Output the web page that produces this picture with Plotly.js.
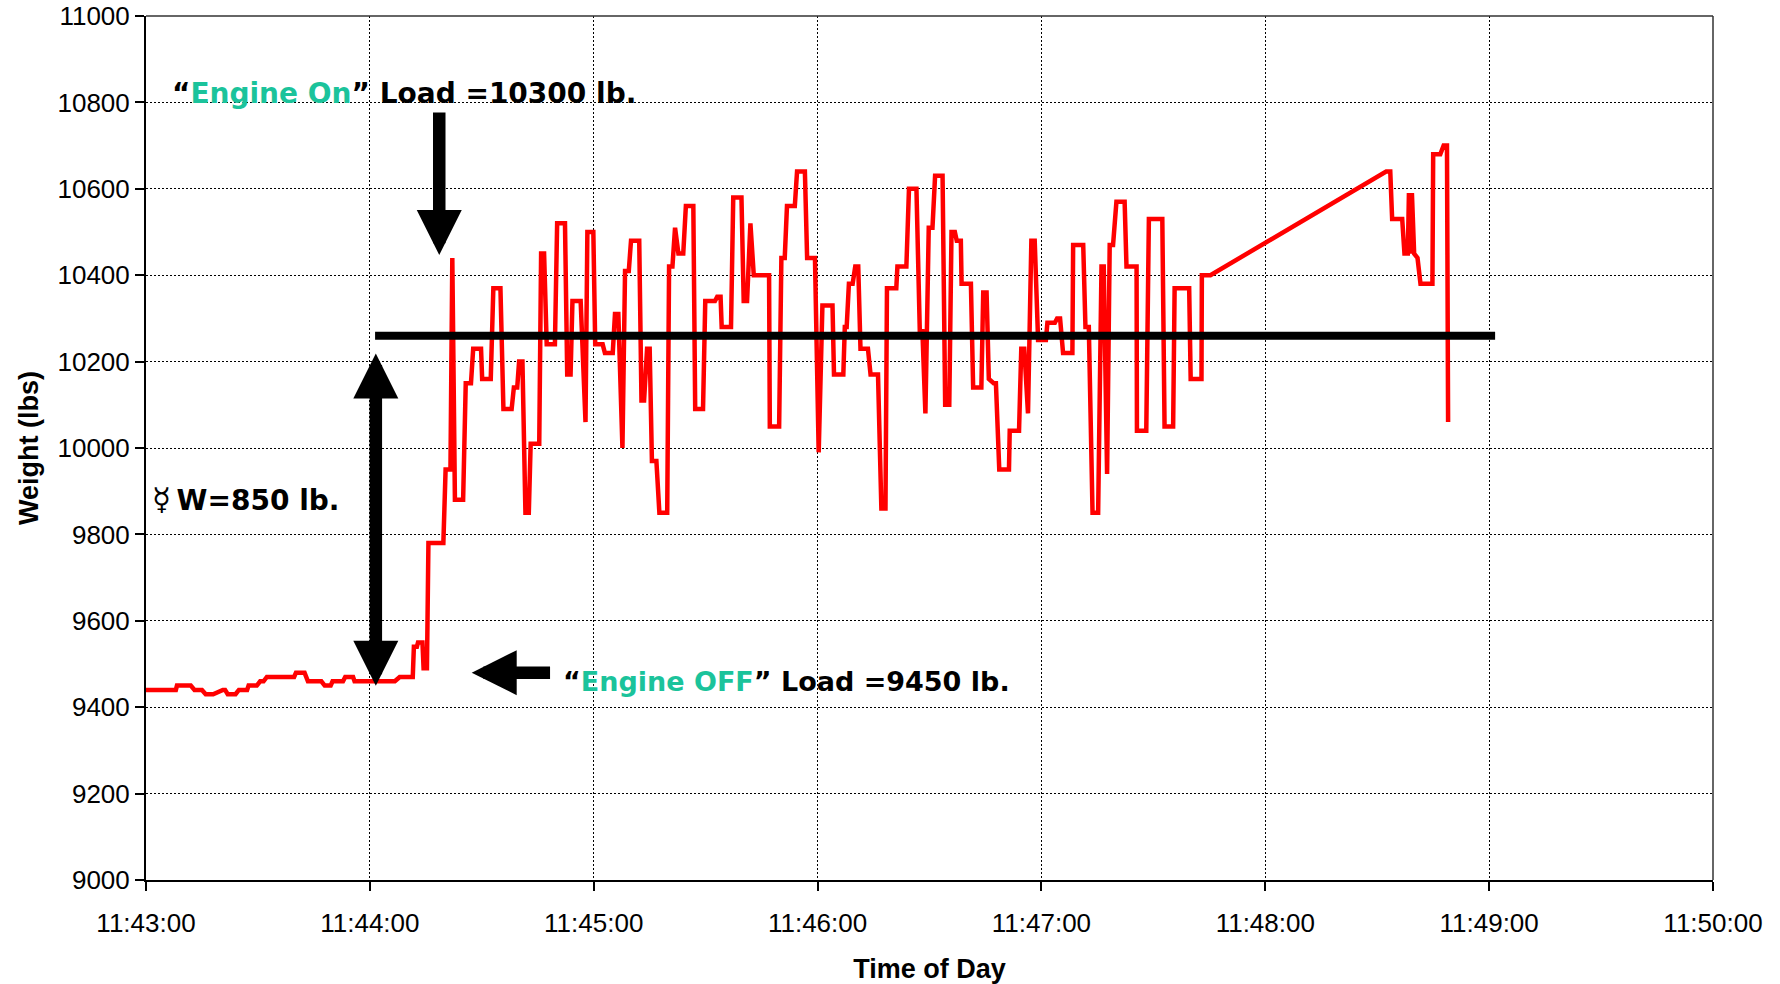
<!DOCTYPE html>
<html><head><meta charset="utf-8">
<script src="https://cdn.plot.ly/plotly-3.0.1.min.js"></script>
<style>html,body{margin:0;padding:0;background:#fff}</style>
</head><body><div id="chart" style="width:1780px;height:984px"></div>
<script>
// Seconds after 11:43:00 and measured weight (lbs)
const seconds = [0,8,8.3,12,13,15,16,18,20.6,21.2,21.9,24,24.9,27.1,27.5,29.7,30.6,31.5,32.4,39.7,40.2,42.5,43.4,47,47.9,49.5,50,52.8,53.4,55.5,55.9,66.7,68,71.5,71.8,72.6,72.9,74.1,74.4,75.3,75.7,79.7,80.3,81.6,82.1,82.8,85,85.7,87.1,87.7,89.8,90.1,92.4,93.1,95,95.8,98,98.6,99.5,100,100.9,101.7,102.6,103.1,105.4,105.9,106.7,107.4,109.6,110.2,112.3,112.9,113.8,114.3,116.5,117.8,118.3,119.9,120.4,122.4,123,125.1,125.7,126.6,127.7,128.4,129.4,130,132.2,132.8,133.5,134.3,135,135.6,136.8,137.6,139.7,140.2,141.1,141.8,142.7,144,144.7,146.7,147.2,149.3,149.9,152.5,153.1,154,154.3,156.8,157.4,159.6,160.2,161.1,162,162.9,167,167.2,169.7,170.3,171.2,171.8,173.9,174.5,176.6,177.2,179.3,180.3,181.3,184,184.4,186.9,187.3,187.8,188.4,189.4,190.1,190.9,191.5,193.5,194.2,196.2,197.1,198.2,198.6,201.1,201.4,203.8,204.5,206.5,207.4,208.1,208.9,209.8,210.8,211.5,213.5,214.2,215.3,215.9,216.8,217.3,218.4,218.6,221.1,221.7,223.9,224.4,225.3,225.9,227.2,227.8,228.7,231.3,231.5,234,234.6,235.4,236.4,237.3,238.2,239.1,241.2,241.6,243.6,244.2,245,245.8,248.3,248.5,251.2,251.8,252.7,253.7,255.2,256.1,256.7,257.6,258.3,259.2,260.1,262.3,262.8,265.5,265.6,268.1,268.8,272.4,273,275.3,275.7,279.6,280,282.9,283,285.3,332.4,333.5,334,336.7,337.3,338.2,338.5,338.9,339.3,339.9,340.8,341.6,344.8,345,346.9,347.8,348.7,349];
const weight = [9440,9440,9450,9450,9440,9440,9430,9430,9440,9440,9430,9430,9440,9440,9450,9450,9460,9460,9470,9470,9480,9480,9460,9460,9450,9450,9460,9460,9470,9470,9460,9460,9470,9470,9540,9540,9550,9550,9490,9490,9780,9780,9950,9950,10440,9880,9880,10150,10150,10230,10230,10160,10160,10370,10370,10090,10090,10140,10140,10200,10200,9850,9850,10010,10010,10450,10450,10240,10240,10520,10520,10170,10170,10340,10340,10060,10500,10500,10240,10240,10220,10220,10310,10310,10000,10410,10410,10480,10480,10110,10110,10230,10230,9970,9970,9850,9850,10420,10420,10510,10450,10450,10560,10560,10090,10090,10340,10340,10350,10350,10280,10280,10580,10580,10340,10340,10520,10400,10400,10050,10050,10440,10440,10560,10560,10640,10640,10440,10440,9990,10330,10330,10170,10170,10280,10280,10380,10380,10420,10420,10230,10230,10170,10170,9860,9860,10370,10370,10420,10420,10600,10600,10270,10270,10080,10510,10510,10630,10630,10100,10100,10500,10500,10480,10480,10380,10380,10140,10140,10360,10360,10160,10150,10150,9950,9950,10040,10040,10230,10230,10080,10480,10480,10250,10250,10290,10290,10300,10300,10220,10220,10470,10470,10280,10280,9850,9850,10420,10420,9940,10470,10470,10570,10570,10420,10420,10040,10040,10530,10530,10050,10050,10370,10370,10160,10160,10400,10400,10640,10640,10530,10530,10450,10450,10590,10450,10590,10450,10440,10380,10380,10680,10680,10700,10700,10060];

const timeTickLabels = ['11:43:00','11:44:00','11:45:00','11:46:00','11:47:00','11:48:00','11:49:00','11:50:00'];
const weightTicks = [9000,9200,9400,9600,9800,10000,10200,10400,10600,10800,11000];
const engineOnLoad = 10260;      // average running-engine load line
const lineStartSec = 61.4, lineEndSec = 361.6;

function timeAt(sec){
  const d = new Date(Date.UTC(2000,0,1,11,43,0) + Math.round(sec*1000));
  return d.toISOString().replace('T',' ').replace('Z','');
}
const day = '2000-01-01 ';
const xs = seconds.map(timeAt);

const green = '#1BC39B';
const annFamily = 'DejaVu Sans, Verdana, sans-serif';
const axFamily = 'Liberation Sans, Arial, sans-serif';

const trace = {
  type:'scatter', mode:'lines', x: xs, y: weight,
  line:{color:'#ff0000', width:4.5}, hoverinfo:'skip', showlegend:false
};

const arrowBase = {xref:'x', yref:'y', axref:'x', ayref:'y', text:'', showarrow:true,
  arrowhead:2, arrowsize:0.72, arrowwidth:12.5, arrowcolor:'#000'};

const layout = {
  width:1780, height:984,
  margin:{l:146, r:67, t:16, b:104, pad:0},
  paper_bgcolor:'#fff', plot_bgcolor:'#fff',
  showlegend:false,
  xaxis:{
    type:'date', range:[day+'11:43:00', day+'11:50:00'],
    tickvals: timeTickLabels.map(l => day + l), ticktext: timeTickLabels,
    showgrid:true, gridcolor:'#000', gridwidth:1, griddash:'2px,2px',
    showline:true, linecolor:'#000', linewidth:2, zeroline:false,
    ticks:'outside', ticklen:9, tickwidth:2, tickcolor:'#000', ticklabelstandoff:10,
    tickfont:{family:axFamily, size:26, color:'#000'},
    title:{text:'<b>Time of Day</b>', font:{family:axFamily, size:27, color:'#000'}, standoff:22}
  },
  yaxis:{
    range:[9000, 11000],
    tickvals: weightTicks, ticktext: weightTicks.map(String),
    showgrid:true, gridcolor:'#000', gridwidth:1, griddash:'2px,2px',
    showline:true, linecolor:'#000', linewidth:2, zeroline:false,
    ticks:'outside', ticklen:9, tickwidth:2, tickcolor:'#000',
    tickfont:{family:axFamily, size:26, color:'#000'},
    title:{text:'<b>Weight (lbs)</b>', font:{family:axFamily, size:27, color:'#000'}, standoff:11}
  },
  shapes:[
    {type:'line', xref:'paper', yref:'paper', x0:0, x1:1, y0:1, y1:1, line:{color:'#333', width:1.5}},
    {type:'line', xref:'paper', yref:'paper', x0:1, x1:1, y0:0, y1:1, line:{color:'#333', width:1.5}},
    {type:'line', xref:'x', yref:'y', x0:timeAt(lineStartSec), x1:timeAt(lineEndSec), y0:engineOnLoad, y1:engineOnLoad, line:{color:'#000', width:8}}
  ],
  annotations:[
    Object.assign({}, arrowBase, {x:timeAt(78.6), y:10447, ax:timeAt(78.6), ay:10780}),
    Object.assign({}, arrowBase, {x:timeAt(61.6), y:10219, ax:timeAt(61.6), ay:9446, arrowside:'end+start', startarrowhead:2, startarrowsize:0.72}),
    Object.assign({}, arrowBase, {x:timeAt(87.3), y:9480, ax:timeAt(108.7), ay:9480}),
    {xref:'x', yref:'y', x:timeAt(6.5), y:10820, xanchor:'left', yanchor:'middle', showarrow:false,
     text:'<b>“<span style="color:'+green+'">Engine On</span>” Load =10300 lb.</b>', font:{family:annFamily, size:28, color:'#000'}},
    {xref:'x', yref:'y', x:timeAt(1.0), y:9881, xanchor:'left', yanchor:'middle', showarrow:false,
     text:'<span style="font-size:31px">☿</span><b>\u2009W=850 lb.</b>', font:{family:annFamily, size:28, color:'#000'}},
    {xref:'x', yref:'y', x:timeAt(111.1), y:9459, xanchor:'left', yanchor:'middle', showarrow:false,
     text:'<b>“<span style="color:'+green+'">Engine OFF</span>” Load =9450 lb.</b>', font:{family:annFamily, size:27, color:'#000'}}
  ]
};

Plotly.newPlot('chart', [trace], layout, {staticPlot:true, displayModeBar:false});
</script></body></html>
